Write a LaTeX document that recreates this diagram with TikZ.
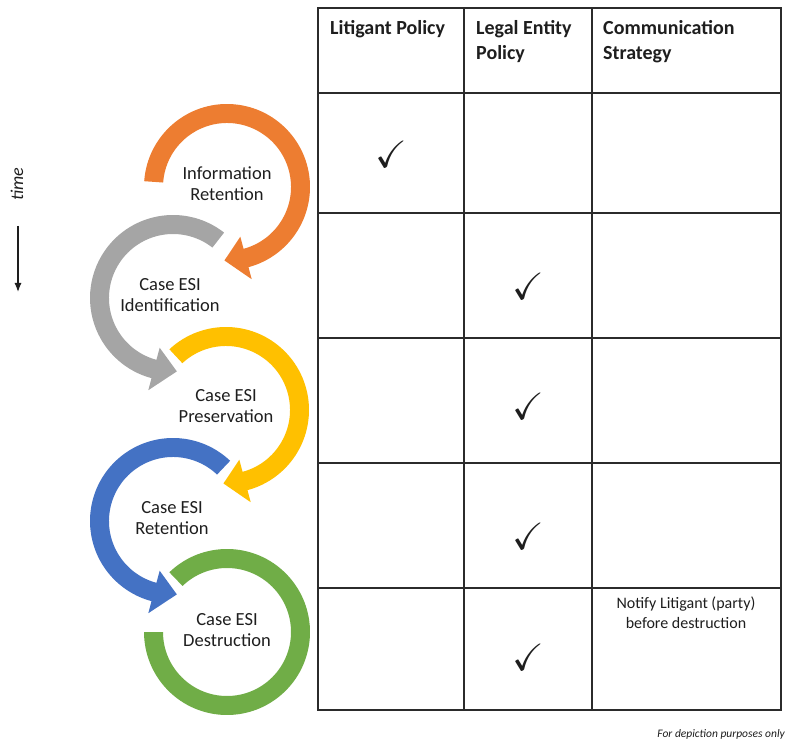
\documentclass[tikz,border=0pt]{standalone}
\usepackage{fontspec}
\setmainfont{Carlito}
\usepackage{amssymb}
\usepackage{graphicx}
\usetikzlibrary{arrows.meta}

\definecolor{ringorange}{HTML}{ED7D31}
\definecolor{ringgray}{HTML}{A5A5A5}
\definecolor{ringyellow}{HTML}{FFC000}
\definecolor{ringblue}{HTML}{4472C4}
\definecolor{ringgreen}{HTML}{70AD47}
\definecolor{gridline}{HTML}{2B2B2B}
\definecolor{ink}{HTML}{1E1E1E}

% ring radii (outer, inner, middle, arrow barbs)
\def\rOut{83}
\def\rIn{64}
\def\rMid{73.5}
\def\rBarbOut{95.5}
\def\rBarbIn{51.5}

% circular arrow: centre, start angle, end angle, tip offset (signed), colour
\newcommand\ringarrow[5]{%
  \fill[#5, shift={#1}] (#2:\rOut) arc[start angle=#2, end angle=#3, radius=\rOut]
    -- (#3:\rBarbOut) -- ({#3+#4}:\rMid) -- (#3:\rBarbIn) -- (#3:\rIn)
    arc[start angle=#3, end angle=#2, radius=\rIn] -- cycle;}

\tikzset{
  steplabel/.style={align=center, text=ink, inner sep=0pt,
    font=\fontsize{18.5}{21}\selectfont},
  headlabel/.style={align=left, text=ink, inner sep=0pt, anchor=north west,
    font=\bfseries\fontsize{20}{25}\selectfont},
  tick/.style={inner sep=0pt, text=ink,
    font=\fontsize{10}{12}\selectfont},
  grid/.style={draw=gridline, line width=1.6pt},
}

\begin{document}
\begin{tikzpicture}[x=1pt, y=1pt]
\useasboundingbox (0,0) rectangle (787,742);

% table grid
\draw[grid] (318,32) rectangle (781,734);
\foreach \gx in {464,592} \draw[grid] (\gx,32) -- (\gx,734);
\foreach \gy in {649,529,404,279,154} \draw[grid] (318,\gy) -- (781,\gy);

% column headers
\node[headlabel] (hLit) at (330,722) {Litigant Policy};
\node[headlabel] (hLegal) at (476,722) {Legal Entity\\Policy};
\node[headlabel] (hComm) at (603,722) {Communication\\Strategy};

% ticks
\node[tick] (t1) at (391,588) {\scalebox{3.8}{$\checkmark$}};
\node[tick] (t2) at (528,456) {\scalebox{3.8}{$\checkmark$}};
\node[tick] (t3) at (528,336) {\scalebox{3.8}{$\checkmark$}};
\node[tick] (t4) at (528,206) {\scalebox{3.8}{$\checkmark$}};
\node[tick] (t5) at (528,85) {\scalebox{3.8}{$\checkmark$}};

\node[align=center, text=ink, inner sep=0pt, font=\fontsize{16}{20}\selectfont]
  (notify) at (686,129) {Notify Litigant (party)\\before destruction};

% lifecycle rings, lowest first
\fill[ringgreen, shift={(227,110)}] (134:\rOut)
  arc[start angle=134, end angle=-180, radius=\rOut] -- (180:\rIn)
  arc[start angle=-180, end angle=134, radius=\rIn] -- cycle;
\ringarrow{(173,221)}{46.5}{255}{18}{ringblue}
\ringarrow{(226,332)}{133}{-75}{-17}{ringyellow}
\ringarrow{(173,444)}{52}{255}{18}{ringgray}
\ringarrow{(227,555)}{176}{-75}{-17}{ringorange}

\node[steplabel] (s1) at (227,558) {Information\\Retention};
\node[steplabel] (s2) at (170,447) {Case ESI\\Identification};
\node[steplabel] (s3) at (226,336) {Case ESI\\Preservation};
\node[steplabel] (s4) at (172,224) {Case ESI\\Retention};
\node[steplabel] (s5) at (227,112) {Case ESI\\Destruction};

% time axis
\node[rotate=90, inner sep=0pt, text=ink, font=\itshape\fontsize{18}{20}\selectfont]
  (time) at (17,558) {time};
\coordinate (tA) at (18,516);
\coordinate (tB) at (18,450);
\draw[ink, line width=1.2pt, -{Latex[length=9pt, width=7pt]}] (tA) -- (tB);

\node[anchor=base east, inner sep=0pt, text=ink, font=\itshape\fontsize{11.5}{13}\selectfont]
  (note) at (785,5) {For depiction purposes only};
\end{tikzpicture}
\end{document}
